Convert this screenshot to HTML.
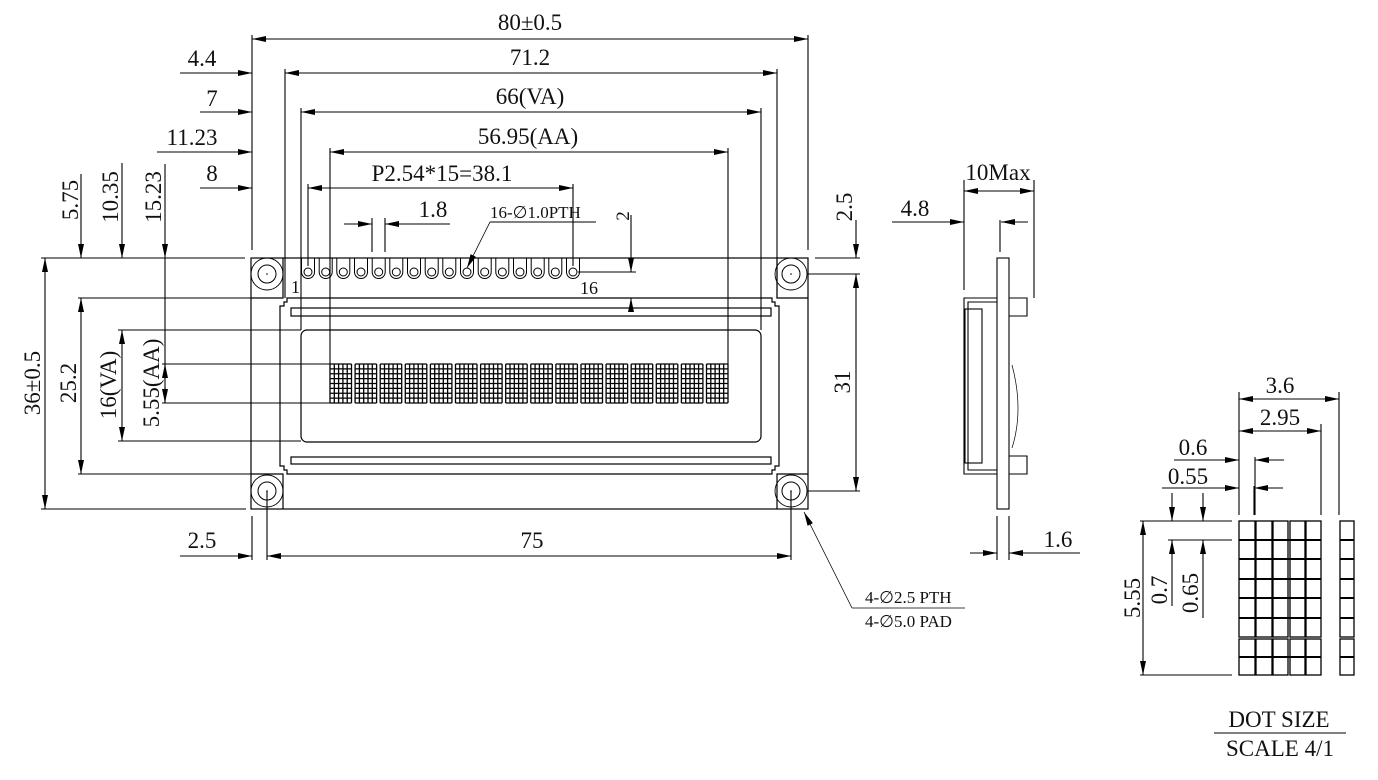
<!DOCTYPE html>
<html><head><meta charset="utf-8"><style>
html,body{margin:0;padding:0;background:#fff;}
svg{display:block;}
text{font-family:"Liberation Serif",serif;font-size:23px;fill:#111;}
</style></head><body>
<svg width="1378" height="780" viewBox="0 0 1378 780" xmlns="http://www.w3.org/2000/svg">
<defs>
<marker id="a" viewBox="0 0 14 6" refX="14" refY="3" markerWidth="14" markerHeight="6" markerUnits="userSpaceOnUse" orient="auto-start-reverse"><path d="M0 0L14 3L0 6z" fill="#000"/></marker>
<symbol id="ch" overflow="visible"><path d="M0 0V39M4.3 0V39M8.6 0V39M12.9 0V39M17.2 0V39M21.5 0V39M0 0H21.5M0 4.875H21.5M0 9.75H21.5M0 14.625H21.5M0 19.5H21.5M0 24.375H21.5M0 29.25H21.5M0 34.125H21.5M0 39H21.5" stroke="#000" stroke-width="1.3" fill="none"/></symbol>
<symbol id="pin" overflow="visible"><path d="M-6.5 258V272A6.5 6.5 0 0 0 6.5 272V258" fill="none" stroke="#000" stroke-width="1"/><circle cx="0" cy="272" r="4" fill="none" stroke="#000" stroke-width="1"/></symbol>
<symbol id="hole" overflow="visible"><circle r="16" fill="none" stroke="#000" stroke-width="0.9"/><circle r="9" fill="none" stroke="#000" stroke-width="1"/><circle r="0.8" fill="#000"/></symbol>
</defs>
<g stroke="#000" stroke-width="1.2" fill="none">
<rect x="251" y="258" width="557" height="251"/>
<path d="M251 298H283V258M808 298H777V258M251 474H283V509M808 474H777V509"/>
<path d="M287 298H772V302H775V306H779V466H775V470H772V474H287V470H284V466H280V306H284V302H287Z"/>
<rect x="291" y="308" width="480" height="8"/>
<rect x="291" y="457" width="480" height="7"/>
<rect x="301" y="330" width="460" height="112" rx="6"/>
</g>
<use href="#hole" x="267" y="274"/><use href="#hole" x="791" y="274"/><use href="#hole" x="267" y="491"/><use href="#hole" x="791" y="491"/>
<g>
<use href="#pin" x="308"/><use href="#pin" x="325.7"/><use href="#pin" x="343.3"/><use href="#pin" x="361"/><use href="#pin" x="378.7"/><use href="#pin" x="396.3"/><use href="#pin" x="414"/><use href="#pin" x="431.7"/><use href="#pin" x="449.3"/><use href="#pin" x="467"/><use href="#pin" x="484.7"/><use href="#pin" x="502.3"/><use href="#pin" x="520"/><use href="#pin" x="537.7"/><use href="#pin" x="555.3"/><use href="#pin" x="573"/>
</g>
<g>
<use href="#ch" x="330" y="364"/><use href="#ch" x="355.1" y="364"/><use href="#ch" x="380.2" y="364"/><use href="#ch" x="405.3" y="364"/><use href="#ch" x="430.4" y="364"/><use href="#ch" x="455.5" y="364"/><use href="#ch" x="480.6" y="364"/><use href="#ch" x="505.7" y="364"/><use href="#ch" x="530.8" y="364"/><use href="#ch" x="555.9" y="364"/><use href="#ch" x="581" y="364"/><use href="#ch" x="606.1" y="364"/><use href="#ch" x="631.2" y="364"/><use href="#ch" x="656.3" y="364"/><use href="#ch" x="681.4" y="364"/><use href="#ch" x="706.5" y="364"/>
</g>
<text x="291" y="293" style="font-size:18px">1</text>
<text x="580" y="294" style="font-size:18px">16</text>

<g stroke="#000" stroke-width="1.1" fill="none">
<path d="M252 35V250M808 35V250M285 69V298M777 69V298M301 108V330M761 108V330M330 148V364M728 148V364M308 184V266M573 184V266M372 218V252M385 218V252"/>
<path d="M252 39H808" marker-start="url(#a)" marker-end="url(#a)"/>
<path d="M285 73H777" marker-start="url(#a)" marker-end="url(#a)"/>
<path d="M180 73H252" marker-end="url(#a)"/>
<path d="M301 112H761" marker-start="url(#a)" marker-end="url(#a)"/>
<path d="M200 112H252" marker-end="url(#a)"/>
<path d="M330 152H728" marker-start="url(#a)" marker-end="url(#a)"/>
<path d="M157 152H252" marker-end="url(#a)"/>
<path d="M308 188H573" marker-start="url(#a)" marker-end="url(#a)"/>
<path d="M200 188H252" marker-end="url(#a)"/>
<path d="M344 224H372" marker-end="url(#a)"/>
<path d="M450 224H385" marker-end="url(#a)"/>
<path d="M490 222H596"/>
<path d="M490 222L467 268" marker-end="url(#a)" stroke-width="0.8"/>
<path d="M578 272H636M612 298H636"/>
<path d="M631 215V272" marker-end="url(#a)"/>
<path d="M631 305V298" marker-end="url(#a)"/>
<path d="M815 258H860M808 274H860M808 491H860"/>
<path d="M856 220V258" marker-end="url(#a)"/>
<path d="M856 274V491" marker-start="url(#a)" marker-end="url(#a)"/>
<path d="M41 258H245M78 298H283M118 330H301M162 364H330M162 403H330M118 441H301M78 474H283M41 509H246"/>
<path d="M45 258V509" marker-start="url(#a)" marker-end="url(#a)"/>
<path d="M81 298V474" marker-start="url(#a)" marker-end="url(#a)"/>
<path d="M122 330V441" marker-start="url(#a)" marker-end="url(#a)"/>
<path d="M81 174V258" marker-end="url(#a)"/>
<path d="M122 163V258" marker-end="url(#a)"/>
<path d="M165 164V258" marker-end="url(#a)"/>
<path d="M165 258V364"/>
<path d="M165 364V403"/>
<path d="M165 380V364" marker-end="url(#a)"/>
<path d="M165 387V403" marker-end="url(#a)"/>
<path d="M252 516V560M267 491V560M791 491V560"/>
<path d="M180 556H252" marker-end="url(#a)"/>
<path d="M267 556H791" marker-start="url(#a)" marker-end="url(#a)"/>
<path d="M852 608L804 512" marker-end="url(#a)" stroke-width="0.8"/>
<path d="M852 608H965" stroke-width="0.8"/>
</g>
<g text-anchor="middle">
<text x="530" y="30">80±0.5</text>
<text x="530" y="65">71.2</text>
<text x="202" y="66">4.4</text>
<text x="530" y="104">66(VA)</text>
<text x="212" y="106">7</text>
<text x="528" y="144">56.95(AA)</text>
<text x="192" y="145">11.23</text>
<text x="442" y="181">P2.54*15=38.1</text>
<text x="212" y="181">8</text>
<text x="433" y="217">1.8</text>
<text x="202" y="548">2.5</text>
<text x="532" y="548">75</text>
</g>
<text x="490" y="218" style="font-size:17px">16-∅1.0PTH</text>
<text x="865" y="603" style="font-size:17px">4-∅2.5 PTH</text>
<text x="865" y="627" style="font-size:17px">4-∅5.0 PAD</text>
<g text-anchor="middle">
<text transform="translate(629,216) rotate(-90)" style="font-size:19px">2</text>
<text transform="translate(852,207) rotate(-90)">2.5</text>
<text transform="translate(850,382) rotate(-90)">31</text>
<text transform="translate(40,383) rotate(-90)">36±0.5</text>
<text transform="translate(76,383) rotate(-90)">25.2</text>
<text transform="translate(116,385) rotate(-90)">16(VA)</text>
<text transform="translate(159,383) rotate(-90)">5.55(AA)</text>
<text transform="translate(78,200) rotate(-90)">5.75</text>
<text transform="translate(118,197) rotate(-90)">10.35</text>
<text transform="translate(161,197) rotate(-90)">15.23</text>
</g>

<g stroke="#000" stroke-width="1.1" fill="none">
<rect x="997" y="258" width="12" height="251"/>
<path d="M997 298H964V474H997M997 302H968V470H997"/>
<rect x="965" y="309" width="17" height="154"/>
<path d="M1009 298H1027V316H1009M1009 456H1027V474H1009"/>
<path d="M1012 365Q1024 410 1012 448" stroke-width="0.7"/>
<path d="M964 180V290M1034 180V298M1000 220V252"/>
<path d="M964 191H1034" marker-start="url(#a)" marker-end="url(#a)"/>
<path d="M892 222H964" marker-end="url(#a)"/>
<path d="M1028 222H1001" marker-end="url(#a)"/>
<path d="M997 516V560M1009 516V560"/>
<path d="M970 553H997" marker-end="url(#a)"/>
<path d="M1080 553H1009" marker-end="url(#a)"/>
</g>
<text x="998" y="180" text-anchor="middle">10Max</text>
<text x="915" y="216" text-anchor="middle">4.8</text>
<text x="1058" y="547" text-anchor="middle">1.6</text>

<g stroke="#000" stroke-width="1.1" fill="none">
<path d="M1239 392V515M1339 392V515M1321 424V515M1255 457V515M1254 486V515"/>
<path d="M1239 399H1339" marker-start="url(#a)" marker-end="url(#a)"/>
<path d="M1239 431H1321" marker-start="url(#a)" marker-end="url(#a)"/>
<path d="M1174 460H1239" marker-end="url(#a)"/>
<path d="M1284 460H1255" marker-end="url(#a)"/>
<path d="M1162 488H1239" marker-end="url(#a)"/>
<path d="M1283 488H1254" marker-end="url(#a)"/>
<path d="M1140 521H1232M1168 540H1232M1140 675H1232"/>
<path d="M1172 493V521" marker-end="url(#a)"/>
<path d="M1172 606V540" marker-end="url(#a)"/>
<path d="M1203 493V521" marker-end="url(#a)"/>
<path d="M1203 618V540" marker-end="url(#a)"/>
<path d="M1143 521V675" marker-start="url(#a)" marker-end="url(#a)"/>
<g stroke-width="1.3">
<rect x="1239" y="521" width="16" height="116"/><rect x="1256" y="521" width="16" height="116"/><rect x="1273" y="521" width="15" height="116"/><rect x="1290" y="521" width="15" height="116"/><rect x="1306" y="521" width="15" height="116"/><rect x="1340" y="521" width="14" height="116"/>
<rect x="1239" y="639" width="16" height="36"/><rect x="1256" y="639" width="16" height="36"/><rect x="1273" y="639" width="15" height="36"/><rect x="1290" y="639" width="15" height="36"/><rect x="1306" y="639" width="15" height="36"/><rect x="1340" y="639" width="14" height="36"/>
<path d="M1239 540H1321M1239 559H1321M1239 579H1321M1239 598H1321M1239 618H1321M1239 657H1321M1340 540H1354M1340 559H1354M1340 579H1354M1340 598H1354M1340 618H1354M1340 657H1354" stroke-width="2"/>
</g>
<path d="M1214 733H1346"/>
</g>
<g text-anchor="middle">
<text x="1280" y="393">3.6</text>
<text x="1280" y="425">2.95</text>
<text x="1193" y="455">0.6</text>
<text x="1188" y="484">0.55</text>
<text transform="translate(1140,598) rotate(-90)">5.55</text>
<text transform="translate(1167,590) rotate(-90)">0.7</text>
<text transform="translate(1198,593) rotate(-90)">0.65</text>
<text x="1279" y="727">DOT SIZE</text>
<text x="1280" y="756">SCALE 4/1</text>
</g>
</svg>
</body></html>
